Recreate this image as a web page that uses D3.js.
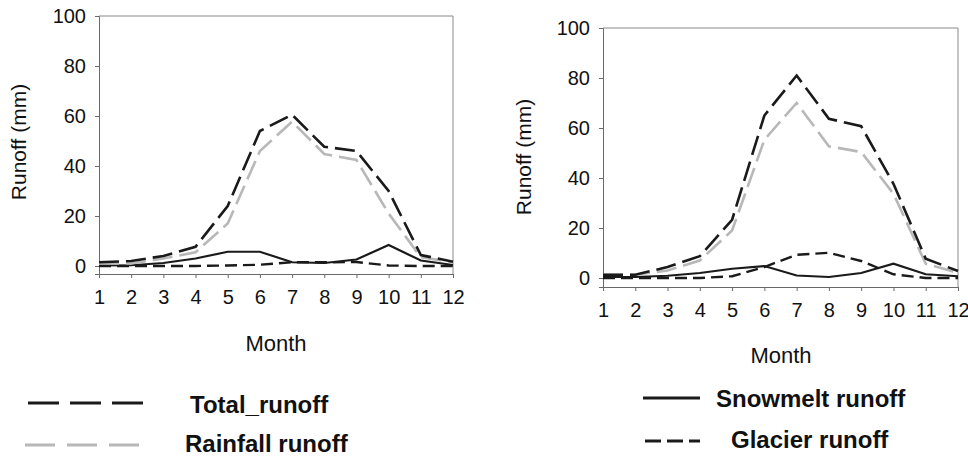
<!DOCTYPE html>
<html>
<head>
<meta charset="utf-8">
<script src="https://cdn.jsdelivr.net/npm/d3@7"></script>
<style>
  body { margin: 0; background: #fff; }
  svg { font-family: "Liberation Sans", Arial, sans-serif; }
</style>
</head>
<body>
<script>
var months = [1,2,3,4,5,6,7,8,9,10,11,12];
var yTicks = [0,20,40,60,80,100];

// left panel
var totalA    = [1.5,2,4,7.7,24,54,60.5,47.7,46,30,4.4,1.7];
var rainfallA = [1,1,3,5.5,17,46,57.7,44.8,42.4,21,3.5,1.5];
var snowmeltA = [0.2,0.3,1.2,3,5.7,5.7,1.5,1.2,2.6,8.4,2.2,0.4];
var glacierA  = [0,0,0,0,0.2,0.5,1.5,1.5,1.6,0.2,0,0];

// right panel
var totalB    = [1.3,1.3,4.4,8.7,23.3,65,81,63.7,60.7,37.7,7.7,2.8];
var rainfallB = [1.3,1.3,3,7,19,55.3,70,52.7,50.4,33.7,5.7,2];
var snowmeltB = [0.4,0.4,0.9,2,3.7,4.8,1,0.4,2,5.7,1.5,0.7];
var glacierB  = [0,0,0,0,0.7,4.4,9.3,10.1,6.8,1.5,0,0];

var svg = d3.select("body").append("svg").attr("width",968).attr("height",456);

var styles = {
  total:    {color:"#1a1a1a", dash:"20,7", width:2.6},
  rainfall: {color:"#b8b8b8", dash:"20,7", width:2.6},
  snowmelt: {color:"#1a1a1a", dash:null,   width:2.2},
  glacier:  {color:"#1a1a1a", dash:"12,6", width:2.4}
};

function panel(p, series){
  var x = d3.scaleLinear().domain([1,12]).range([p.left,p.right]);
  var y = d3.scaleLinear().domain([p.ymin,100]).range([p.bottom,p.top]);
  var g = svg.append("g");

  // plot border top/right
  g.append("path")
    .attr("d","M"+p.left+","+p.top+"H"+p.right+"V"+p.bottom)
    .attr("fill","none").attr("stroke","#8a8a8a").attr("stroke-width",1);

  var yAxis = g.append("g").attr("transform","translate("+p.left+",0)")
    .call(d3.axisLeft(y).tickValues(yTicks).tickSize(4).tickPadding(9));
  var xAxis = g.append("g").attr("transform","translate(0,"+p.bottom+")")
    .call(d3.axisBottom(x).tickValues(months).tickSize(4).tickPadding(12));
  [yAxis,xAxis].forEach(function(a){
    a.attr("font-size",20).attr("font-family","Liberation Sans, Arial, sans-serif");
    a.select(".domain").attr("stroke","#6a6a6a");
    a.selectAll(".tick line").attr("stroke","#6a6a6a");
    a.selectAll("text").attr("fill","#111");
  });

  var line = d3.line().x(function(d,i){ return x(months[i]); }).y(function(d){ return y(d); });
  ["snowmelt","glacier","rainfall","total"].forEach(function(k){
    var s = styles[k];
    g.append("path").datum(series[k]).attr("d",line)
      .attr("fill","none").attr("stroke",s.color).attr("stroke-width",s.width)
      .attr("stroke-dasharray",s.dash);
  });

  g.append("text").attr("transform","translate("+p.ytx+","+p.yty+") rotate(-90)")
    .attr("text-anchor","middle").attr("font-size",21).attr("fill","#111").text("Runoff (mm)");
  g.append("text").attr("x",p.mx).attr("y",p.my)
    .attr("text-anchor","middle").attr("font-size",22).attr("fill","#111").text("Month");
}

panel({left:99,right:453,top:16,bottom:274,ymin:-3.2,ytx:26,yty:142,mx:276,my:351},
  {total:totalA,rainfall:rainfallA,snowmelt:snowmeltA,glacier:glacierA});
panel({left:603,right:958,top:28,bottom:287,ymin:-3.6,ytx:531,yty:157,mx:781,my:363},
  {total:totalB,rainfall:rainfallB,snowmelt:snowmeltB,glacier:glacierB});

// legends
var legend = [
  {x1:28,x2:145,y:403,tx:190,ty:413,label:"Total_runoff",color:"#1a1a1a",dash:"31,11",w:3.2},
  {x1:25,x2:140,y:445,tx:185,ty:452,label:"Rainfall runoff",color:"#b8b8b8",dash:"30,12",w:3.2},
  {x1:643,x2:700,y:398,tx:716,ty:407,label:"Snowmelt runoff",color:"#1a1a1a",dash:null,w:3},
  {x1:645,x2:700,y:441,tx:731,ty:448,label:"Glacier runoff",color:"#1a1a1a",dash:"16,6",w:3}
];
var lg = svg.append("g");
legend.forEach(function(d){
  lg.append("line").attr("x1",d.x1).attr("x2",d.x2).attr("y1",d.y).attr("y2",d.y)
    .attr("stroke",d.color).attr("stroke-width",d.w).attr("stroke-dasharray",d.dash);
  lg.append("text").attr("x",d.tx).attr("y",d.ty).attr("font-size",24)
    .attr("font-weight","bold").attr("fill","#111").text(d.label);
});
</script>
</body>
</html>
